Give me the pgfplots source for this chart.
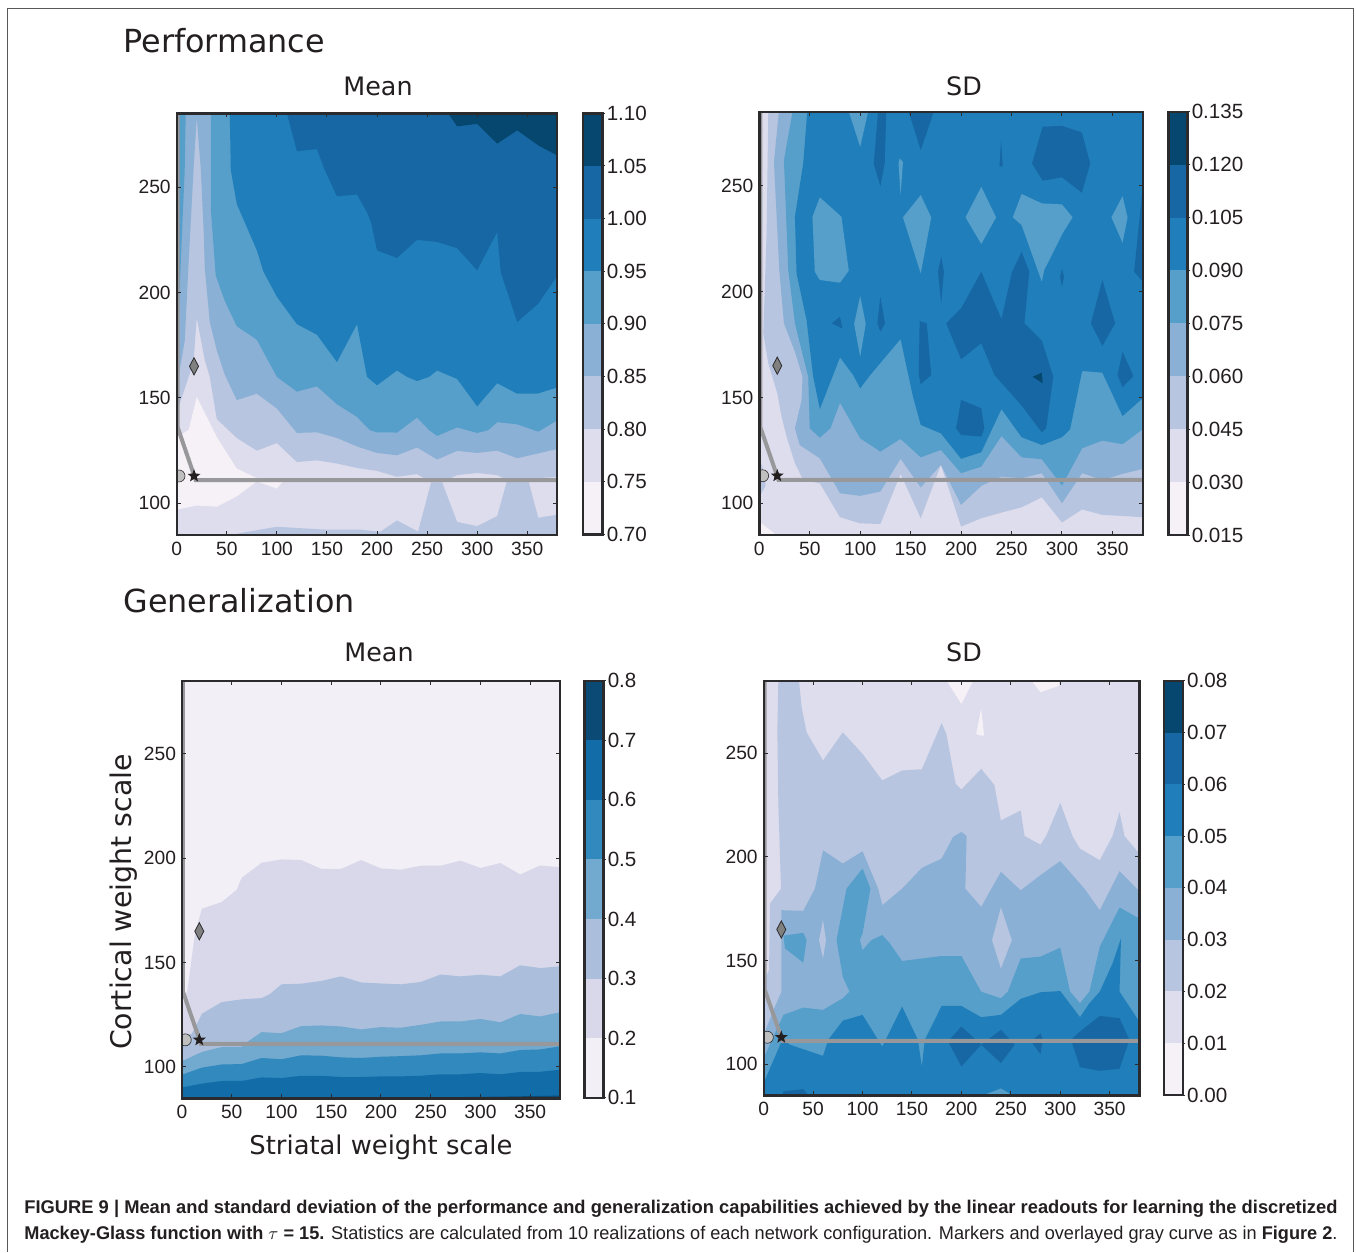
\documentclass[border=0pt]{standalone}
\usepackage{graphicx}
\usepackage{fontspec}
\setmainfont{Liberation Sans}
\newfontfamily\titlefont{DejaVu Sans}
\usepackage{pgfplots}
\pgfplotsset{compat=1.18}

% colour classes, light to dark
\definecolor{ca}{HTML}{F6F0F7}
\definecolor{cb}{HTML}{DEDDED}
\definecolor{cc}{HTML}{B8C5E0}
\definecolor{cd}{HTML}{8AB0D5}
\definecolor{ce}{HTML}{559FCA}
\definecolor{cf}{HTML}{207FBA}
\definecolor{cg}{HTML}{1667A3}
\definecolor{ch}{HTML}{06476F}
% generalization mean has its own ramp
\definecolor{ga}{HTML}{F3EFF6}
\definecolor{gb}{HTML}{D8D8EA}
\definecolor{gc}{HTML}{ABBFDD}
\definecolor{gd}{HTML}{72A9CF}
\definecolor{ge}{HTML}{3189BE}
\definecolor{gf}{HTML}{116CA8}
\definecolor{gg}{HTML}{0B4A75}
\definecolor{spine}{HTML}{2B2A2C}
\definecolor{ink}{HTML}{231F20}
\definecolor{curve}{HTML}{98989B}

\newcommand{\band}[2]{\addplot[fill=#1,draw=none,forget plot] coordinates {#2} -- cycle;}
\newcommand{\cb}[3]{\addplot[fill=#1,draw=none,forget plot] coordinates {(0,#2)(1,#2)(1,#3)(0,#3)} -- cycle;}

\pgfdeclareplotmark{fivestar}{%
  \pgfpathmoveto{\pgfpointpolar{90}{\pgfplotmarksize}}
  \pgfpathlineto{\pgfpointpolar{126}{0.42\pgfplotmarksize}}
  \pgfpathlineto{\pgfpointpolar{162}{\pgfplotmarksize}}
  \pgfpathlineto{\pgfpointpolar{198}{0.42\pgfplotmarksize}}
  \pgfpathlineto{\pgfpointpolar{234}{\pgfplotmarksize}}
  \pgfpathlineto{\pgfpointpolar{270}{0.42\pgfplotmarksize}}
  \pgfpathlineto{\pgfpointpolar{306}{\pgfplotmarksize}}
  \pgfpathlineto{\pgfpointpolar{342}{0.42\pgfplotmarksize}}
  \pgfpathlineto{\pgfpointpolar{18}{\pgfplotmarksize}}
  \pgfpathlineto{\pgfpointpolar{54}{0.42\pgfplotmarksize}}
  \pgfpathclose\pgfusepathqfill}

% gray curve and the three markers, on top of the contours
\newcommand{\overlay}[4]{%
  \addplot[curve,line width=2pt,forget plot] coordinates {(1,285)(1,136)(19,#1)(380,#1)};
  \addplot[only marks,mark=*,mark size=3pt,mark options={fill=gray!50,draw=spine,line width=.3pt},forget plot] coordinates {(#2,113)};
  \addplot[only marks,mark=diamond*,mark size=4.3pt,mark options={xscale=.7,fill=gray,draw=spine,line width=.4pt},forget plot] coordinates {(#3,165)};
  \addplot[only marks,mark=fivestar,mark size=3.4pt,color=ink,forget plot] coordinates {(#4,113)};
}

\pgfplotsset{
  base/.style={
    scale only axis, axis on top,
    axis line style={line width=1.2pt,color=spine},
    tick style={line width=.5pt,color=spine},
    major tick length=2pt,
    tick label style={font=\fontsize{9.6}{11}\selectfont,text=ink},
    /pgf/number format/assume math mode=true,
    /pgf/number format/1000 sep={},
  },
  heat/.style={
    base, xmin=0, xmax=380, ymin=85, ymax=285,
    xtick={0,50,100,150,200,250,300,350},
    ytick={100,150,200,250},
    tick align=inside,
    clip marker paths=true,
    yticklabel style={xshift=0.5pt},
  },
  cbar/.style={
    base, xmin=0, xmax=1, xtick=\empty,
    scaled y ticks=false,
    ytick pos=right, yticklabel pos=right,
    tick align=outside, major tick length=1.2pt,
    yticklabel style={xshift=-2.5pt,font=\fontsize{10.3}{12}\selectfont},
  },
}

\begin{document}
\begin{tikzpicture}
\path (0,0) rectangle (678pt,-626pt);
\draw[gray!70!black,line width=.5pt] (3.6pt,-626pt) -- (3.6pt,-4pt) -- (676.6pt,-4pt) -- (676.6pt,-626pt);

% Performance, mean
\begin{axis}[heat,at={(88.35pt,-267.5pt)},anchor=south west,width=190.3pt,height=210.85pt,axis background/.style={fill=cb}]
\band{ca}{(0,131)(12,135)(20,150.5)(40,131.5)(60,116.5)(80,112)(100,111)(107,111)(100,107)(80,110.4)(60,103.3)(40,98.4)(20,99)(0,97)}
\band{cc}{(0,285)(0,143)(13,161.5)(17,168)(20,188)(28,168)(33,160)(40,140)(60,131)(80,125)(100,128.6)(120,119.6)(140,120.4)(160,118.9)(180,116.8)(200,115.4)(220,112.6)(240,113.9)(254,110)(265,110)(280,113.4)(300,114.4)(320,113.4)(330,111)(351,111)(360,112)(380,112.5)(380,285)}
\band{cc}{(53,85)(80,87.3)(100,88.9)(147,87.6)(183,87.6)(203,86.5)(220,91.9)(241,86.6)(254,110)(265,110)(280,91.2)(300,89.2)(320,94)(330,111)(351,111)(361,93.2)(380,94.6)(380,85)}
\band{cd}{(0,285)(0,155)(8,177)(12,215)(17,260)(20,283)(24,259)(27,228)(28,212)(33,186)(40,172.6)(48,161)(60,149)(80,152)(100,145)(120,133.4)(140,133.7)(160,131)(180,127)(200,123.9)(220,122.8)(240,126.5)(260,120.8)(280,124.9)(300,123.9)(320,125)(340,121.4)(360,123.6)(380,125.8)(380,285)}
\band{ce}{(0,285)(9,285)(8,258)(5,225)(2,190)(0,180)}
\band{ce}{(34,285)(34,240)(39,208)(48,196)(60,184)(80,177.6)(100,160)(120,153)(140,155.5)(160,147)(180,141)(193,134.7)(200,133.7)(220,133.6)(240,140.7)(252,134.7)(260,132)(280,136)(300,133.4)(311,134.7)(320,138.5)(340,137.5)(361,134)(380,139.4)(380,285)}
\band{cf}{(53,285)(54,258)(60,242)(70,231)(80,220)(86.5,210)(100,198)(120,185)(140,180)(160,167)(180,185)(190,160)(200,156)(220,163)(230,160)(240,158)(252,160)(260,163)(280,159)(300,146)(320,157)(340,152)(360,152)(380,155)(380,285)}
\band{cg}{(110,285)(120,267)(140,268)(147,259)(160,245.6)(180,246.5)(190,238)(194,233.4)(200,220)(220,216.4)(240,225)(260,224)(280,221)(300,210.5)(320,228.7)(323.5,209.7)(340,186)(361,194.7)(380,208)(380,285)}
\band{ch}{(271,285)(280,278.8)(300,280)(320,270.6)(340,276.9)(361,269.8)(380,265)(380,285)}
\overlay{111}{2.3}{17.3}{17.3}
\end{axis}

% Performance, SD
\begin{axis}[heat,at={(379.65pt,-267.5pt)},anchor=south west,width=191.7pt,height=211.65pt,axis background/.style={fill=cb}]
\band{ca}{(0,91.3)(17,85)(0,85)}
\band{cc}{(8.9,285)(7.3,229)(4,180.3)(8.9,166.1)(17.8,152)(22,141)(27,131.5)(35.3,118.9)(43.5,111)(60,109.4)(80,93.4)(100,90.5)(120,90.2)(140,113.9)(160,92.9)(180,118.1)(200,89)(220,92.9)(240,95.6)(260,98.1)(280,102.8)(300,90.9)(320,97.1)(340,94.5)(360,94)(380,93.4)(380,285)}
\band{cc}{(0,122)(6,112)(6,108)(0,103)}
\band{cd}{(19.4,285)(14.5,261.3)(19.8,210.2)(24.4,185)(35.3,171.6)(42.8,159.8)(41.9,148.8)(35.3,135.4)(40,127.5)(60,121.2)(80,104.7)(100,103.5)(120,105.5)(140,121)(160,107.5)(180,118.1)(200,99.2)(220,108.2)(240,112.6)(260,111.8)(280,114.2)(300,100)(320,114.2)(340,111)(360,113.9)(380,116.2)(380,285)}
\band{ce}{(33,285)(24.4,262.1)(28.7,210.2)(35.3,185)(43.5,169.2)(48.5,159.8)(50,135.4)(60,131)(70.5,135.4)(80,147.5)(100,130.7)(120,124.4)(140,130.4)(160,121.7)(180,125.2)(200,114.2)(220,117.3)(240,131.8)(260,121.7)(280,120.8)(300,108.4)(320,126)(340,129.6)(360,127.9)(380,134.9)(380,285)}
\band{cf}{(47.5,285)(43.5,260.5)(35.3,235.4)(36.9,208.6)(46.8,186.6)(53.4,159.8)(60,144.5)(80,168.9)(93,160.6)(100,154.3)(110,160.6)(140,177.6)(152.3,150.4)(160,137)(180,133)(200,121)(220,124.1)(240,144.5)(260,131.2)(280,127.5)(300,131.2)(308,134.9)(320,162.5)(340,161.7)(360,141.2)(380,149.6)(380,285)}
\band{ce}{(88.7,285)(100,268.4)(107.8,285)}
\band{ce}{(139,262.9)(142.4,261.3)(140,245.6)(138,260.5)}
\band{ce}{(60,244.5)(52.7,235.4)(55,209.4)(60,205.5)(80,204.2)(88.7,209.9)(81.4,235.4)}
\band{ce}{(160,245.6)(142.4,235.1)(160,208.6)(170.4,235.1)}
\band{ce}{(220,249.5)(204.4,235.1)(220,222.5)(234.7,235.1)}
\band{ce}{(260,246.1)(251.2,235.1)(260,231.4)(280,204.7)(282.4,210.2)(300.6,227.5)(310.5,235.1)(300,241.2)(280,241.7)}
\band{ce}{(360,245.1)(349,235.1)(360,223.1)(365,235.1)}
\band{ce}{(100,197.9)(94,184.7)(100,169.2)(105.5,184.7)}
\band{cg}{(117.7,285)(125.9,285)(124.3,260.5)(120,249.8)(113.4,260.5)}
\band{cg}{(148,285)(173,285)(160,266.8)}
\band{cg}{(239.6,271.6)(241.3,259.3)(238,259)}
\band{cg}{(280.8,277.9)(300,278.3)(319.7,275.2)(328,260.5)(319.7,246.7)(300,254)(280.8,252.4)(270.3,260.5)}
\band{cg}{(380,249.5)(371.5,209.4)(380,204.7)}
\band{cg}{(180.3,216.5)(177,209.4)(180.3,194.4)(183,209.4)}
\band{cg}{(300,211)(298,207)(300,202.3)(302,207)}
\band{cg}{(220,209.4)(200,192.1)(185.2,185)(200,168)(220,175.6)(233,160.6)(259.6,146.4)(280,133.5)(284.3,135.4)(291.4,159.8)(280,176.8)(262.7,185)(267.6,209.4)(260,218.8)(250.5,209.4)(240,187)}
\band{cg}{(71.5,185)(80,188.1)(82.4,182.6)}
\band{cg}{(120,197.6)(124.6,185)(120,181.1)(117,185)}
\band{cg}{(158.9,186.1)(166,185)(170.4,160.6)(160,156.2)(158,160.6)}
\band{cg}{(200,148.8)(220,144.9)(223,135.4)(220,131.5)(200,132.3)(195,135.4)}
\band{cg}{(340,205.5)(328.6,185)(340,174.3)(352.7,185)}
\band{cg}{(360,171.6)(355,160.6)(360,154.8)(370.8,160.1)}
\band{ch}{(280,161.7)(271,159.8)(280.8,156.7)}
\overlay{111}{3.3}{17.8}{17.8}
\end{axis}

% Generalization, mean
\begin{axis}[heat,at={(91pt,-549.15pt)},anchor=south west,width=189pt,height=208.8pt,axis background/.style={fill=ga}]
\band{gb}{(0.7,130.3)(5.4,136.7)(13,163.8)(20,175.8)(40,179)(55,184.9)(60,190.6)(80,197.8)(100,199.4)(120,199.1)(140,194.9)(160,194.9)(180,199.1)(200,195.1)(220,194.5)(240,196.4)(260,196.4)(280,198.8)(300,195.3)(320,197.7)(340,192.2)(360,196.5)(380,195.7)(380,85)(0,85)}
\band{gc}{(0,114.3)(10,116)(20,125.5)(40,131.1)(60,132.4)(80,133)(88,134.8)(100,139.6)(120,139.9)(140,141.2)(160,143.4)(180,140.5)(200,140)(220,139.6)(240,140.7)(260,144.3)(280,143.4)(300,144.2)(320,143.4)(340,148.7)(360,147.4)(380,148.2)(380,85)(0,85)}
\band{gd}{(0,102.8)(20,107.2)(40,109.6)(60,109.6)(68,112.8)(80,116.7)(100,116.2)(120,119.6)(140,119.9)(160,119.4)(180,118)(200,119.1)(220,118.8)(240,120.2)(260,121.8)(280,121.8)(300,123)(320,121.4)(340,125.4)(360,124.2)(380,126.2)(380,85)(0,85)}
\band{ge}{(0,96.3)(20,99.7)(40,101.2)(60,101.4)(80,104.3)(100,103.7)(120,105.6)(140,105.4)(160,104.6)(180,104.3)(200,104.9)(220,105.2)(240,105.6)(260,106.5)(280,106.5)(300,107)(320,106.5)(340,108.1)(360,108.4)(380,109.9)(380,85)(0,85)}
\band{gf}{(0,90.2)(20,92)(40,93.3)(60,93.3)(80,95)(100,94.7)(120,95.8)(140,95.8)(160,95.2)(180,95.2)(200,95.5)(220,95.5)(240,95.8)(260,96.5)(280,96.5)(300,97.1)(320,96.5)(340,97.6)(360,97.7)(380,98.7)(380,85)(0,85)}
\band{gg}{(100,85)(140,85.3)(200,85)(260,85.5)(320,85.8)(380,86.3)(380,85)}
\overlay{111.1}{3.3}{17.4}{17.4}
\end{axis}

% Generalization, SD
\begin{axis}[heat,at={(381.85pt,-547.65pt)},anchor=south west,width=187.8pt,height=207.3pt,axis background/.style={fill=cb}]
\band{ca}{(185,285)(200,273.8)(212,285)}
\band{ca}{(271,285)(280,279.4)(299,282.6)(299,285)}
\band{ca}{(215,259.3)(220,271.7)(223,258.5)(220,258.5)}
\band{cc}{(380,85)(0,85)(0,140)(5.4,145.4)(6.4,177.5)(17.5,184.7)(14.8,225.6)(13.8,260.9)(14.8,285)(35.7,285)(38.4,272.2)(43.4,260.1)(60,246.5)(80,260.1)(100,249.7)(120,236.9)(140,241.7)(160,242.3)(180,264.6)(184.8,259.3)(194.2,235.3)(200,232.5)(220,242.5)(233.3,234.8)(240,217.6)(260,222.4)(263.9,210.1)(280,205.9)(285.8,210.1)(300,226.1)(312.8,209.6)(320,204)(340,198.4)(353,210.1)(360,221.6)(365,210.1)(380,201.6)}
\band{cd}{(0,85)(0,114.2)(11.4,127.8)(18,135)(18,174.3)(40,174)(51.8,184.7)(60,203.2)(80,196.8)(100,202.7)(115.8,184.7)(120,176.7)(140,184.7)(160,194.7)(180,199.2)(191.5,209.6)(200,212)(205.3,210.1)(204,184.7)(220,175.9)(240,192.8)(260,183.9)(280,191.2)(300,198)(324.5,184.7)(340,174.3)(360,193.1)(380,183.5)(380,85)}
\band{cc}{(60,169.5)(56,159.9)(60,151)(63,159.9)}
\band{cc}{(240,175.6)(231,159.9)(240,146.2)(251,159.9)}
\band{ce}{(0,85)(0,103)(20,123.8)(40,127.3)(60,126.2)(80,131.8)(86.8,135)(80,142.2)(73.7,159.9)(83.8,184.7)(100,194.4)(108,184.7)(100,163)(97.3,159.9)(100,155)(109,159.9)(120,162.3)(127.6,158.3)(140,149.8)(180,152.2)(200,152.2)(220,135)(240,131.8)(247,135)(260,151)(280,151.9)(300,156.2)(310,135)(320,129.4)(329.5,135)(340,156.7)(360,175.6)(380,170.3)(380,85)}
\band{ce}{(20,162)(40,163.4)(43.4,159.9)(40,149)(21.5,155.9)}
\band{cf}{(0,85)(0,91)(19,112)(26.6,109.4)(60,104)(65.3,111.8)(80,121)(100,123.8)(120,108.5)(140,127.8)(156,111.8)(160,98.9)(163,111.8)(180,128.1)(200,128.1)(220,122.7)(240,123.8)(260,131.5)(280,134.7)(300,135.3)(320,122.7)(329.5,129.4)(340,135)(353,148.7)(361.5,160.7)(360,135)(380,120.6)(380,85)}
\band{ce}{(222,85)(240,88.3)(252,85)}
\band{cg}{(200,118.2)(186.5,111)(200,98.9)(220,109.4)}
\band{cg}{(220,109.4)(240,116.6)(254,109.4)(240,100.5)}
\band{cg}{(280,114.9)(270.6,111)(280,104.9)(282.4,111.8)}
\band{cg}{(320,115.8)(340,123.3)(360,122.2)(370,111.8)(360,97.8)(340,96.8)(320,98.6)(311,111.8)}
\band{cg}{(19,85)(20,86.9)(40,88)(45,85)}
\overlay{111.3}{3.7}{17.8}{17.8}
\end{axis}

% colour bars
\begin{axis}[cbar,at={(291.35pt,-267.15pt)},anchor=south west,width=9.8pt,height=210.5pt,ymin=0.70,ymax=1.10,
  ytick={0.70,0.75,0.80,0.85,0.90,0.95,1.00,1.05,1.10},
  yticklabels={0.70,0.75,0.80,0.85,0.90,0.95,1.00,1.05,1.10}]
\cb{ca}{0.70}{0.75}\cb{cb}{0.75}{0.80}\cb{cc}{0.80}{0.85}\cb{cd}{0.85}{0.90}
\cb{ce}{0.90}{0.95}\cb{cf}{0.95}{1.00}\cb{cg}{1.00}{1.05}\cb{ch}{1.05}{1.10}
\end{axis}
\begin{axis}[cbar,at={(584.15pt,-267.5pt)},anchor=south west,width=9.5pt,height=211.65pt,ymin=0.015,ymax=0.135,
  ytick={0.015,0.030,0.045,0.060,0.075,0.090,0.105,0.120,0.135},
  yticklabels={0.015,0.030,0.045,0.060,0.075,0.090,0.105,0.120,0.135}]
\cb{ca}{0.015}{0.030}\cb{cb}{0.030}{0.045}\cb{cc}{0.045}{0.060}\cb{cd}{0.060}{0.075}
\cb{ce}{0.075}{0.090}\cb{cf}{0.090}{0.105}\cb{cg}{0.105}{0.120}\cb{ch}{0.120}{0.135}
\end{axis}
\begin{axis}[cbar,at={(292.15pt,-548.85pt)},anchor=south west,width=9.5pt,height=208.5pt,ymin=0.1,ymax=0.8,
  ytick={0.1,0.2,0.3,0.4,0.5,0.6,0.7,0.8},
  yticklabels={0.1,0.2,0.3,0.4,0.5,0.6,0.7,0.8}]
\cb{ga}{0.1}{0.2}\cb{gb}{0.2}{0.3}\cb{gc}{0.3}{0.4}\cb{gd}{0.4}{0.5}
\cb{ge}{0.5}{0.6}\cb{gf}{0.6}{0.7}\cb{gg}{0.7}{0.8}
\end{axis}
\begin{axis}[cbar,at={(582pt,-547.5pt)},anchor=south west,width=9.35pt,height=207.15pt,ymin=0,ymax=0.08,
  ytick={0,0.01,0.02,0.03,0.04,0.05,0.06,0.07,0.08},
  yticklabels={0.00,0.01,0.02,0.03,0.04,0.05,0.06,0.07,0.08}]
\cb{ca}{0}{0.01}\cb{cb}{0.01}{0.02}\cb{cc}{0.02}{0.03}\cb{cd}{0.03}{0.04}
\cb{ce}{0.04}{0.05}\cb{cf}{0.05}{0.06}\cb{cg}{0.06}{0.07}\cb{ch}{0.07}{0.08}
\end{axis}

% titles and labels
\begin{scope}[every node/.style={text=ink,inner sep=0pt}]
\node[anchor=base west,font=\titlefont\fontsize{15.9}{18}\selectfont] at (61.5pt,-26pt) {Performance};
\node[anchor=base west,font=\titlefont\fontsize{15.9}{18}\selectfont] at (61.5pt,-306pt) {Generalization};
\node[anchor=base,font=\titlefont\fontsize{12.7}{15}\selectfont] at (189pt,-47.5pt) {Mean};
\node[anchor=base,font=\titlefont\fontsize{12.7}{15}\selectfont] at (482pt,-47.5pt) {SD};
\node[anchor=base,font=\titlefont\fontsize{12.7}{15}\selectfont] at (189.5pt,-330.5pt) {Mean};
\node[anchor=base,font=\titlefont\fontsize{12.7}{15}\selectfont] at (482pt,-330.5pt) {SD};
\node[anchor=base,rotate=90,font=\titlefont\fontsize{14.2}{16}\selectfont] at (65.5pt,-451pt) {Cortical weight scale};
\node[anchor=base,font=\titlefont\fontsize{12.9}{16}\selectfont] at (190.5pt,-577pt) {Striatal weight scale};
\node[anchor=base west] at (12pt,-606.5pt) {\resizebox{656.5pt}{\height}{\fontsize{9.2}{10}\selectfont\bfseries FIGURE 9 | Mean and standard deviation of the performance and generalization capabilities achieved by the linear readouts for learning the discretized}};
\node[anchor=base west] at (12pt,-619.5pt) {\resizebox{656.5pt}{\height}{\fontsize{9.2}{10}\selectfont{\bfseries Mackey-Glass function with $\tau$ = 15.} Statistics are calculated from 10 realizations of each network configuration. Markers and overlayed gray curve as in {\bfseries Figure 2}.}};
\end{scope}
\end{tikzpicture}
\end{document}
